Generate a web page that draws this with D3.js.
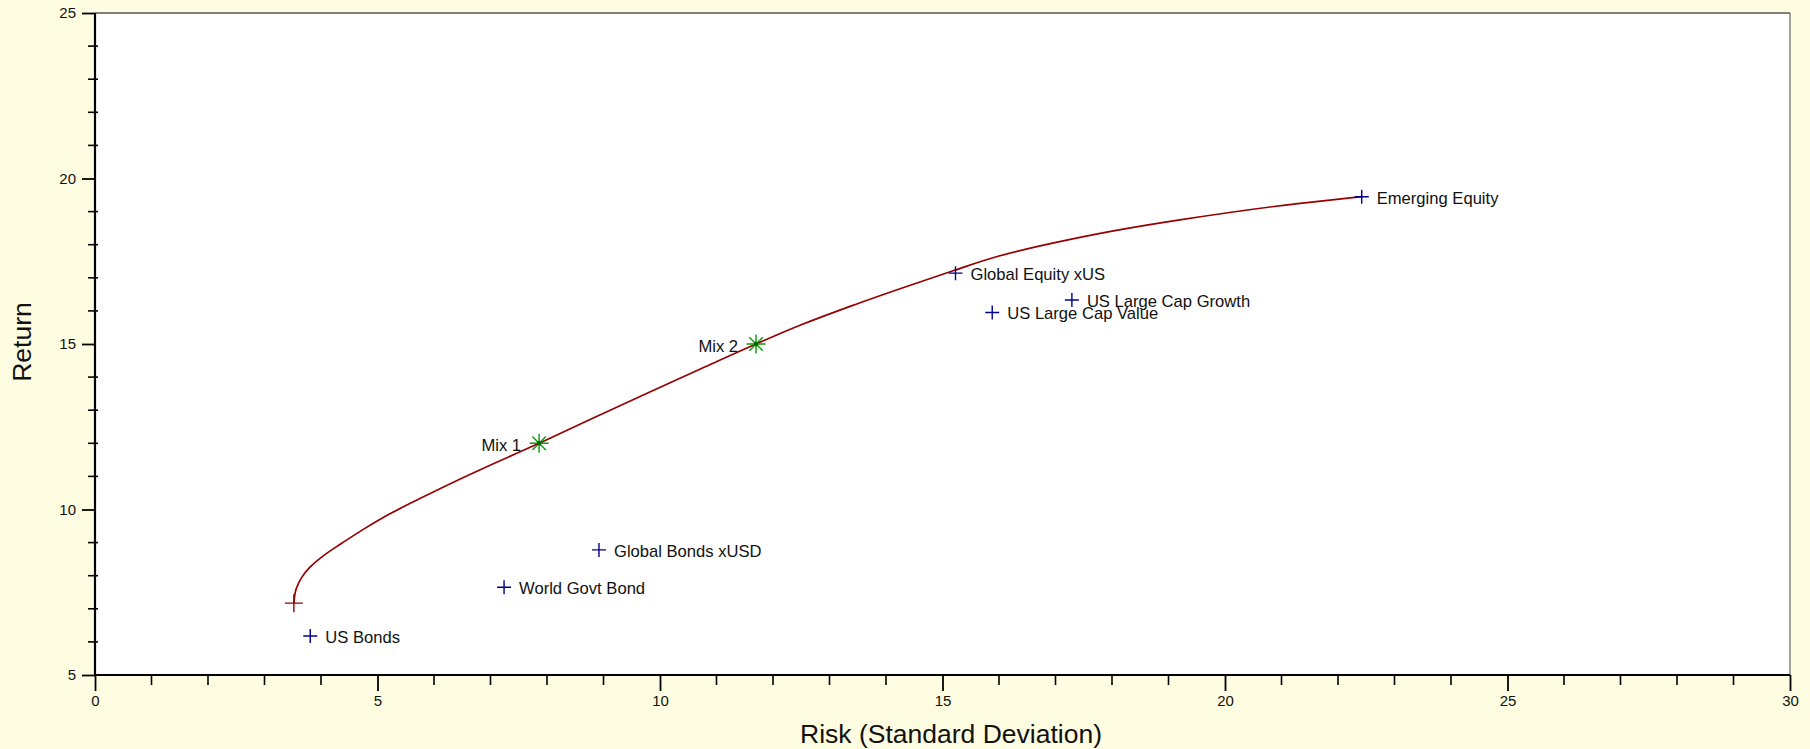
<!DOCTYPE html>
<html>
<head>
<meta charset="utf-8">
<script src="https://cdn.jsdelivr.net/npm/d3@7"></script>
<style>
  html, body { margin: 0; padding: 0; background: #fffde1; }
  svg { display: block; font-family: "Liberation Sans", Arial, sans-serif; }
</style>
</head>
<body>
<svg id="chart" width="1810" height="749"></svg>
<script>
// efficient frontier (risk, return)
const frontierRisk = [3.52, 3.56, 3.66, 3.80, 4.04, 4.34, 4.75, 5.22, 5.75, 6.40, 7.10, 7.86, 8.80, 9.82, 10.80, 11.70, 12.50, 13.40, 14.30, 15.20, 16.00, 17.20, 18.20, 19.20, 21.33, 22.42];
const frontierReturn = [7.17, 7.60, 7.95, 8.25, 8.60, 8.95, 9.40, 9.87, 10.33, 10.87, 11.42, 12.00, 12.75, 13.55, 14.31, 15.00, 15.58, 16.16, 16.70, 17.22, 17.66, 18.14, 18.47, 18.75, 19.25, 19.45];

const assetNames = ["US Bonds", "World Govt Bond", "Global Bonds xUSD", "Global Equity xUS", "US Large Cap Value", "US Large Cap Growth", "Emerging Equity"];
const assetRisk = [3.81, 7.24, 8.92, 15.23, 15.88, 17.29, 22.42];
const assetReturn = [6.18, 7.65, 8.78, 17.14, 15.95, 16.33, 19.45];

const mixNames = ["Mix 1", "Mix 2"];
const mixRisk = [7.86, 11.70];
const mixReturn = [12.0, 15.0];

const minVarRisk = 3.52;
const minVarReturn = 7.17;

const xTicks = [0, 5, 10, 15, 20, 25, 30];
const yTicks = [5, 10, 15, 20, 25];

const W = 1810, H = 749;
const margin = { top: 13, right: 20, bottom: 74, left: 95 };

const svg = d3.select("#chart");

const x = d3.scaleLinear().domain([0, 30]).range([margin.left, W - margin.right]);
const y = d3.scaleLinear().domain([5, 25]).range([H - margin.bottom, margin.top]);

// plot background
svg.append("rect")
  .attr("x", x(0)).attr("y", y(25))
  .attr("width", x(30) - x(0)).attr("height", y(5) - y(25))
  .attr("fill", "#ffffff");

// top and right frame
svg.append("line")
  .attr("x1", x(0)).attr("x2", x(30)).attr("y1", y(25)).attr("y2", y(25))
  .attr("stroke", "#555").attr("stroke-width", 1.3);
svg.append("line")
  .attr("x1", x(30)).attr("x2", x(30)).attr("y1", y(25)).attr("y2", y(5))
  .attr("stroke", "#666").attr("stroke-width", 1.2);

// minor ticks
const xMinor = d3.range(0, 31, 1).filter(v => v % 5 !== 0);
const yMinor = d3.range(5, 26, 1).filter(v => v % 5 !== 0);

svg.append("g").selectAll("line")
  .data(xMinor)
  .join("line")
  .attr("x1", d => x(d)).attr("x2", d => x(d))
  .attr("y1", y(5)).attr("y2", y(5) + 10)
  .attr("stroke", "#000").attr("stroke-width", 1.6);

svg.append("g").selectAll("line")
  .data(yMinor)
  .join("line")
  .attr("x1", x(0) - 7).attr("x2", x(0) + 3)
  .attr("y1", d => y(d)).attr("y2", d => y(d))
  .attr("stroke", "#000").attr("stroke-width", 1.6);

// axes
const xAxis = d3.axisBottom(x).tickValues(xTicks).tickSize(16).tickPadding(4).tickFormat(d3.format("d"));
const yAxis = d3.axisLeft(y).tickValues(yTicks).tickSize(13).tickPadding(6).tickFormat(d3.format("d"));

const gx = svg.append("g").attr("transform", `translate(0,${y(5)})`).call(xAxis);
const gy = svg.append("g").attr("transform", `translate(${x(0)},0)`).call(yAxis);

[gx, gy].forEach(g => {
  g.select(".domain").attr("stroke", "#000").attr("stroke-width", 2.2);
  g.selectAll(".tick line").attr("stroke", "#000").attr("stroke-width", 1.8);
  g.selectAll(".tick text")
    .attr("fill", "#111")
    .attr("font-size", 15)
    .attr("font-family", "'Liberation Sans', Arial, sans-serif");
});
gx.select(".domain").attr("d", `M${x(0)},0H${x(30)}`);
gy.select(".domain").attr("d", `M0,${y(5)}V${y(25)}`);

// axis titles
svg.append("text")
  .attr("x", 951).attr("y", 743)
  .attr("text-anchor", "middle")
  .attr("font-size", 26.5)
  .attr("fill", "#111")
  .text("Risk (Standard Deviation)");

svg.append("text")
  .attr("transform", `translate(31,${342}) rotate(-90)`)
  .attr("text-anchor", "middle")
  .attr("font-size", 26.5)
  .attr("fill", "#111")
  .text("Return");

// frontier
const frontier = frontierRisk.map((r, i) => [r, frontierReturn[i]]);
const line = d3.line()
  .x(d => x(d[0]))
  .y(d => y(d[1]))
  .curve(d3.curveMonotoneY);

svg.append("path")
  .datum(frontier)
  .attr("d", line)
  .attr("fill", "none")
  .attr("stroke", "#960000")
  .attr("stroke-width", 1.7);

// plus marker helper
function plus(g, cx, cy, r, color) {
  g.append("path")
    .attr("d", `M${cx - r},${cy}H${cx + r}M${cx},${cy - r}V${cy + r}`)
    .attr("stroke", color)
    .attr("stroke-width", 1.4)
    .attr("fill", "none");
}

// min variance point
plus(svg, x(minVarRisk), y(minVarReturn), 9, "#990000");

// assets
const assets = svg.append("g");
assetNames.forEach((name, i) => {
  const cx = x(assetRisk[i]), cy = y(assetReturn[i]);
  plus(assets, cx, cy, 7, "#00008b");
  assets.append("text")
    .attr("x", cx + 15)
    .attr("y", cy + 1)
    .attr("dy", "0.35em")
    .attr("font-size", 16.6)
    .attr("fill", "#111")
    .text(name);
});

// mixes (green asterisks)
const mixes = svg.append("g");
mixNames.forEach((name, i) => {
  const cx = x(mixRisk[i]), cy = y(mixReturn[i]);
  const r = 9.5, d = r * Math.SQRT1_2;
  mixes.append("path")
    .attr("d", `M${cx - r},${cy}H${cx + r}M${cx},${cy - r}V${cy + r}` +
      `M${cx - d},${cy - d}L${cx + d},${cy + d}M${cx - d},${cy + d}L${cx + d},${cy - d}`)
    .attr("stroke", "#0a9a0a")
    .attr("stroke-width", 1.4)
    .attr("fill", "none");
  mixes.append("circle")
    .attr("cx", cx).attr("cy", cy).attr("r", 2.2)
    .attr("fill", "#006400");
  mixes.append("text")
    .attr("x", cx - 18)
    .attr("y", cy + 2)
    .attr("dy", "0.35em")
    .attr("text-anchor", "end")
    .attr("font-size", 16.6)
    .attr("fill", "#111")
    .text(name);
});
</script>
</body>
</html>
